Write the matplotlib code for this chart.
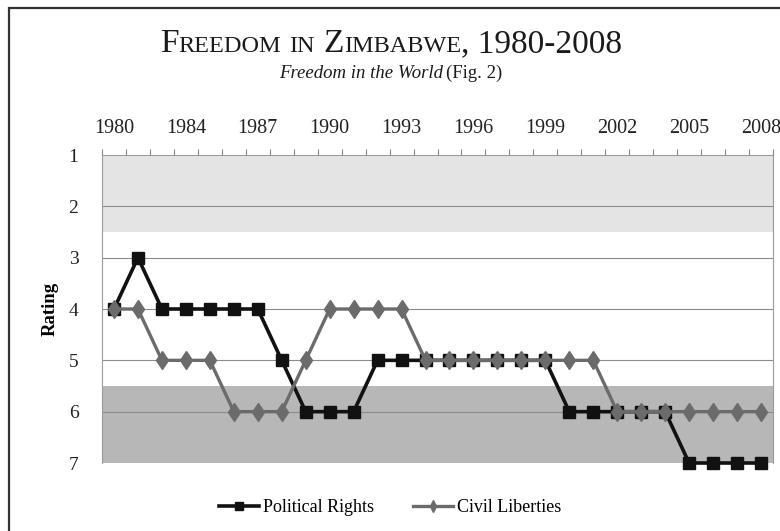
import matplotlib
matplotlib.use("Agg")
import matplotlib.pyplot as plt
import matplotlib.transforms as mtransforms
from matplotlib.patches import Rectangle

# Freedom House ratings (1 = most free, 7 = least free)
years = [1980, 1981, 1983, 1984, 1985, 1986, 1987, 1988, 1989, 1990,
         1991, 1992, 1993, 1994, 1995, 1996, 1997, 1998, 1999, 2000,
         2001, 2002, 2003, 2004, 2005, 2006, 2007, 2008]
political_rights = [4, 3, 4, 4, 4, 4, 4, 5, 6, 6, 6, 5, 5, 5,
                    5, 5, 5, 5, 5, 6, 6, 6, 6, 6, 7, 7, 7, 7]
civil_liberties = [4, 4, 5, 5, 5, 6, 6, 6, 5, 4, 4, 4, 4, 5,
                   5, 5, 5, 5, 5, 5, 5, 6, 6, 6, 6, 6, 6, 6]
label_years = [1980, 1984, 1987, 1990, 1993, 1996, 1999, 2002, 2005, 2008]
ratings = [1, 2, 3, 4, 5, 6, 7]

SERIF = "Liberation Serif"
plt.rcParams["font.family"] = SERIF

W, H = 780, 531
fig = plt.figure(figsize=(W / 100, H / 100), dpi=100)
ax = fig.add_axes([102 / W, 1 - 463 / H, (773 - 102) / W, (463 - 155) / H])

x = list(range(len(years)))

# shaded bands: free (1-2.5) and not free (5.5-7)
ax.axhspan(1, 2.5, color="#e4e4e4", zorder=0, lw=0)
ax.axhspan(5.5, 7, color="#b7b7b7", zorder=0, lw=0)
for r in ratings[1:-1]:
    ax.axhline(r, color="#8c8c8c", lw=0.8, zorder=1)

ax.plot(x, political_rights, "-s", color="#111111", lw=2.6, markersize=9,
        label="Political Rights", zorder=3, clip_on=False)
ax.plot(x, civil_liberties, "-d", color="#6b6b6b", lw=2.4, markersize=9.5,
        label="Civil Liberties", zorder=4, clip_on=False)

ax.set_xlim(-0.5, len(years) - 0.5)
ax.set_ylim(7, 1)
ax.set_yticks(ratings)
ax.set_yticklabels([str(r) for r in ratings], fontsize=14, color="#222222")
ax.tick_params(axis="y", length=0, pad=17)

ax.xaxis.tick_top()
ax.set_xticks([years.index(y) for y in label_years])
ax.set_xticklabels([str(y) for y in label_years], fontsize=14.5, color="#222222")
ax.set_xticks([i + 0.5 for i in range(-1, len(years))], minor=True)
ax.tick_params(axis="x", which="major", length=0, pad=12)
ax.tick_params(axis="x", which="minor", length=4, color="#888888", width=0.8)

for side in ["top", "left", "right"]:
    ax.spines[side].set_color("#9a9a9a")
    ax.spines[side].set_linewidth(0.8)
ax.spines["bottom"].set_visible(False)

ax.set_ylabel("Rating", fontsize=13.5, fontweight="bold")
ax.yaxis.set_label_coords(-43 / (773 - 102), 0.5)

fig.legend(loc="center", bbox_to_anchor=(0.5, 1 - 508 / H), ncol=2, frameon=False,
           fontsize=13, handlelength=2.2, columnspacing=2.2, handletextpad=0.2,
           markerscale=0.6)

# outer frame
fig.patches.append(Rectangle((9 / W, -0.2), 1.2, 1 - 7.5 / H + 0.2, transform=fig.transFigure,
                             fill=False, edgecolor="#333333", lw=1.6))


def draw_runs(y, runs, **kw):
    # lay text pieces side by side, then centre the whole line
    r = fig.canvas.get_renderer()
    items = []
    cur = 0.0
    for s, size, style in runs:
        if s == " ":
            cur += size * 0.25 * 100 / 72
            continue
        t = fig.text(0, y, s, fontsize=size, fontstyle=style, va="baseline",
                     transform=mtransforms.IdentityTransform(), **kw)
        w = t.get_window_extent(r).width
        items.append((t, cur))
        cur += w
    start = 391 - cur / 2
    for t, off in items:
        t.set_x(start + off)


big, small = 24, 17.5
draw_runs(H - 52, [("F", big, "normal"), ("REEDOM", small, "normal"), (" ", big, ""),
                   ("IN", small, "normal"), (" ", big, ""), ("Z", big, "normal"),
                   ("IMBABWE", small, "normal"), (", 1980-2008", big, "normal")],
          color="#1a1a1a")
draw_runs(H - 78, [("Freedom in the World", 13.5, "italic"), (" ", 8, ""),
                   ("(Fig. 2)", 13.5, "normal")], color="#1a1a1a")

fig.savefig("out.png", dpi=100)
